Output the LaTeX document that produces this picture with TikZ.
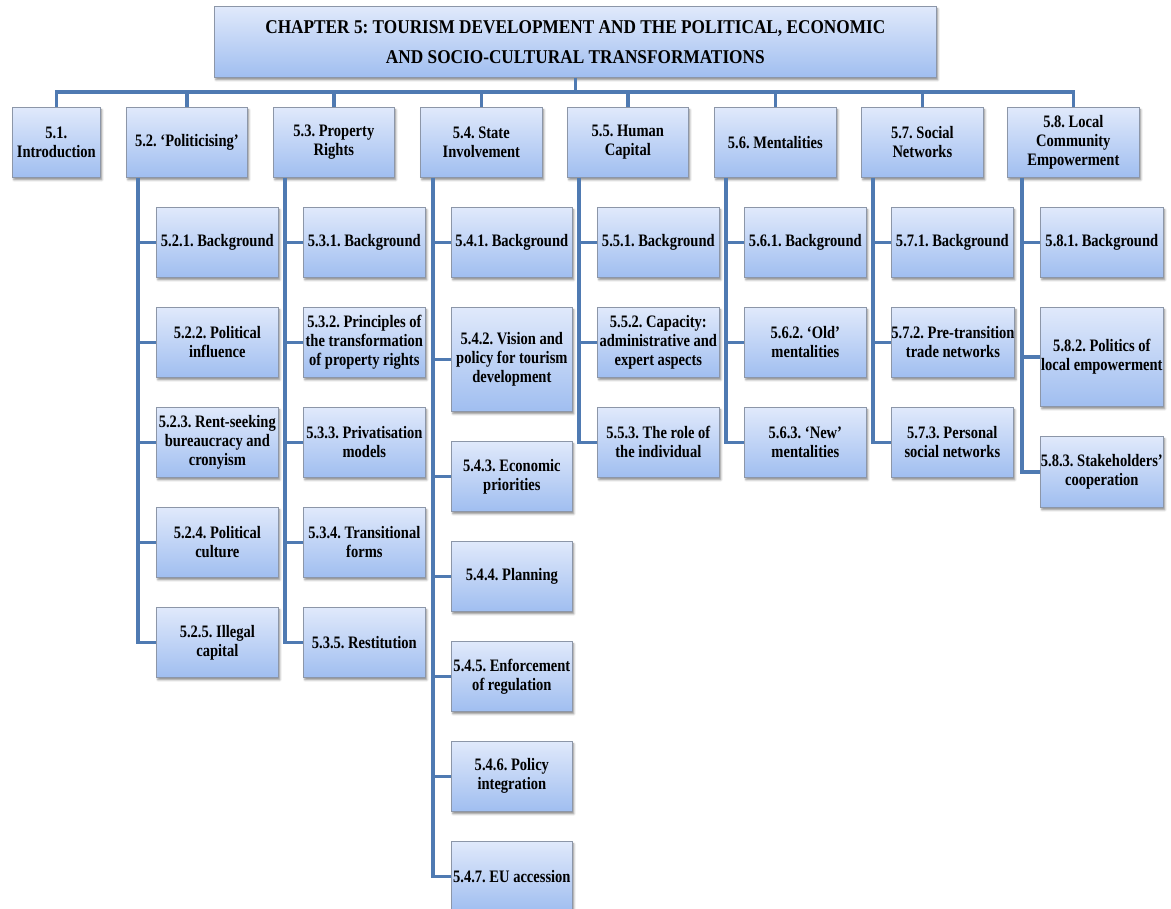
\documentclass[tikz,border=0pt]{standalone}
\usepackage{fontspec}
\setmainfont{Liberation Serif}
\newfontfamily\boxfont[FakeStretch=0.83]{Liberation Serif}
\newfontfamily\titlefont[FakeStretch=0.885]{Liberation Serif}
\usetikzlibrary{calc,shadows.blur}
\definecolor{boxtop}{RGB}{224,233,251}
\definecolor{boxbot}{RGB}{160,190,240}
\definecolor{boxrule}{RGB}{140,150,168}
\definecolor{linkblue}{RGB}{79,122,178}
\tikzset{
  box/.style={draw=boxrule, line width=0.7pt, top color=boxtop, bottom color=boxbot,
    blur shadow={shadow xshift=1.5pt, shadow yshift=-2.5pt, shadow blur radius=2pt, shadow opacity=45},
    inner sep=0pt, align=center, anchor=north west,
    font=\frenchspacing\boxfont\bfseries\fontsize{17.5}{19}\selectfont},
  bw/.style={minimum width=#1},
  bh/.style={minimum height=#1},
  conn/.style={draw=linkblue, line width=3.5pt},
}
\begin{document}
\begin{tikzpicture}[x=1pt,y=-1pt]
\useasboundingbox (0,0) rectangle (1171,909);

% chapter title
\node[box, bw=722, bh=71, font=\frenchspacing\titlefont\bfseries\fontsize{19.5}{30}\selectfont] (title) at (214,6)
  {CHAPTER 5: TOURISM DEVELOPMENT AND THE POLITICAL, ECONOMIC\\AND SOCIO-CULTURAL TRANSFORMATIONS};

% section headings
\node[box, bw=88,  bh=70] (n51) at (12,107)   {5.1.\\Introduction};
\node[box, bw=121, bh=70] (n52) at (126,107)  {5.2. ‘Politicising’};
\node[box, bw=121, bh=70] (n53) at (273,107)  {5.3. Property\\Rights};
\node[box, bw=122, bh=70] (n54) at (420,107)  {5.4. State\\Involvement};
\node[box, bw=121, bh=70] (n55) at (567,107)  {5.5. Human\\Capital};
\node[box, bw=122, bh=70] (n56) at (714,107)  {5.6. Mentalities};
\node[box, bw=122, bh=70] (n57) at (861,107)  {5.7. Social\\Networks};
\node[box, bw=132, bh=70] (n58) at (1007,107) {5.8. Local\\Community\\Empowerment};

% 5.2 subsections
\node[box, bw=122, bh=70] (n521) at (156,207) {5.2.1. Background};
\node[box, bw=122, bh=70] (n522) at (156,307) {5.2.2. Political\\influence};
\node[box, bw=122, bh=70] (n523) at (156,407) {5.2.3. Rent-seeking\\bureaucracy and\\cronyism};
\node[box, bw=122, bh=70] (n524) at (156,507) {5.2.4. Political\\culture};
\node[box, bw=122, bh=70] (n525) at (156,607) {5.2.5. Illegal\\capital};

% 5.3 subsections
\node[box, bw=122, bh=70] (n531) at (303,207) {5.3.1. Background};
\node[box, bw=122, bh=70] (n532) at (303,307) {5.3.2. Principles of\\the transformation\\of property rights};
\node[box, bw=122, bh=70] (n533) at (303,407) {5.3.3. Privatisation\\models};
\node[box, bw=122, bh=70] (n534) at (303,507) {5.3.4. Transitional\\forms};
\node[box, bw=122, bh=70] (n535) at (303,607) {5.3.5. Restitution};

% 5.4 subsections
\node[box, bw=121, bh=70]  (n541) at (451,207) {5.4.1. Background};
\node[box, bw=121, bh=104] (n542) at (451,307) {5.4.2. Vision and\\policy for tourism\\development};
\node[box, bw=121, bh=70]  (n543) at (451,441) {5.4.3. Economic\\priorities};
\node[box, bw=121, bh=70]  (n544) at (451,541) {5.4.4. Planning};
\node[box, bw=121, bh=70]  (n545) at (451,641) {5.4.5. Enforcement\\of regulation};
\node[box, bw=121, bh=70]  (n546) at (451,741) {5.4.6. Policy\\integration};
\node[box, bw=121, bh=70]  (n547) at (451,841) {5.4.7. EU accession};

% 5.5 subsections
\node[box, bw=122, bh=70] (n551) at (597,207) {5.5.1. Background};
\node[box, bw=122, bh=70] (n552) at (597,307) {5.5.2. Capacity:\\administrative and\\expert aspects};
\node[box, bw=122, bh=70] (n553) at (597,407) {5.5.3. The role of\\the individual};

% 5.6 subsections
\node[box, bw=122, bh=70] (n561) at (744,207) {5.6.1. Background};
\node[box, bw=122, bh=70] (n562) at (744,307) {5.6.2. ‘Old’\\mentalities};
\node[box, bw=122, bh=70] (n563) at (744,407) {5.6.3. ‘New’\\mentalities};

% 5.7 subsections
\node[box, bw=122, bh=70] (n571) at (891,207) {5.7.1. Background};
\node[box, bw=122, bh=70] (n572) at (891,307) {5.7.2. Pre-transition\\trade networks};
\node[box, bw=122, bh=70] (n573) at (891,407) {5.7.3. Personal\\social networks};

% 5.8 subsections
\node[box, bw=123, bh=70] (n581) at (1040,207) {5.8.1. Background};
\node[box, bw=123, bh=99] (n582) at (1040,307) {5.8.2. Politics of\\local empowerment};
\node[box, bw=123, bh=71] (n583) at (1040,436) {5.8.3. Stakeholders’\\cooperation};

% bus from the title to the section headings
\coordinate (bus) at (0,92);
\draw[conn] (title.south) -- (title.south |- bus);
\draw[conn] (n51.north) -- (n51.north |- bus) -- (n58.north |- bus) -- (n58.north);
\foreach \s in {n52,n53,n54,n55,n56,n57}
  \draw[conn] (\s.north) -- (\s.north |- bus);

% trunk lines from each heading to its subsections
\foreach \p/\last/\rest in {n52/n525/{n521,n522,n523,n524},
                            n53/n535/{n531,n532,n533,n534},
                            n54/n547/{n541,n542,n543,n544,n545,n546},
                            n55/n553/{n551,n552},
                            n56/n563/{n561,n562},
                            n57/n573/{n571,n572},
                            n58/n583/{n581,n582}} {
  \coordinate (v) at ($(\last.west)+(-18,0)$);
  \draw[conn] (v |- \p.south) |- (\last.west);
  \foreach \c in \rest
    \draw[conn] (v |- \c.west) -- (\c.west);
}
\end{tikzpicture}
\end{document}
